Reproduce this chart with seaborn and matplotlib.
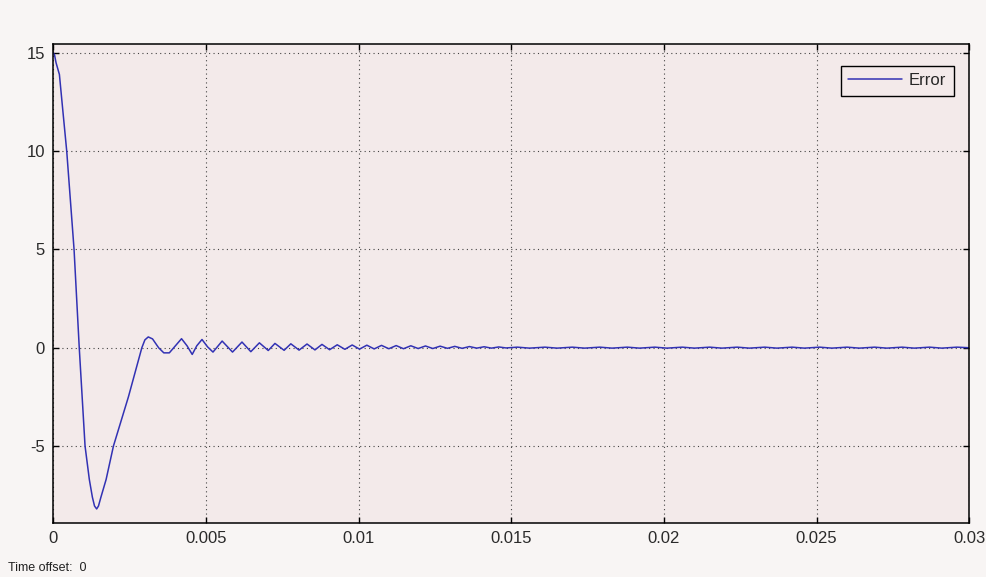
import numpy as np
import pandas as pd
import matplotlib
matplotlib.use("Agg")
import matplotlib.pyplot as plt
import seaborn as sns

# Valores (tempo em ms, erro)
tempo_transitorio_ms = [0.0, 0.04, 0.09, 0.20, 0.31, 0.44, 0.68, 0.85, 1.04, 1.18,
                        1.28, 1.35, 1.42, 1.48, 1.56, 1.73, 1.97, 2.46, 2.90, 3.00, 3.11]
erro_transitorio = [15.0, 14.9, 14.5, 13.9, 12.1, 10.0, 5.0, 0.0, -5.0, -6.7,
                    -7.6, -8.05, -8.2, -8.05, -7.6, -6.7, -5.0, -2.5, 0.0, 0.4, 0.55]

tempo_oscilacao_ms = [3.25, 3.45, 3.62, 3.80, 4.00, 4.20, 4.38, 4.55, 4.70, 4.87,
                      5.05, 5.23, 5.53, 5.87, 6.18, 6.47, 6.75, 7.04, 7.26, 7.56,
                      7.78, 8.05, 8.31, 8.57, 8.80, 9.05, 9.30, 9.55, 9.79, 10.03,
                      10.27, 10.51, 10.75, 10.99, 11.23, 11.47, 11.71, 11.95, 12.19, 12.43,
                      12.67, 12.91, 13.15, 13.39, 13.63, 13.87, 14.11, 14.35, 14.59, 14.83]
erro_oscilacao = [0.45, 0.0, -0.26, -0.26, 0.10, 0.46, 0.10, -0.34, 0.10, 0.42,
                  0.05, -0.22, 0.34, -0.22, 0.29, -0.20, 0.25, -0.14, 0.22, -0.13,
                  0.20, -0.12, 0.19, -0.11, 0.17, -0.10, 0.15, -0.08, 0.14, -0.07,
                  0.13, -0.06, 0.12, -0.05, 0.11, -0.05, 0.10, -0.04, 0.09, -0.04,
                  0.08, -0.03, 0.07, -0.03, 0.06, -0.02, 0.05, -0.02, 0.04, -0.01]

tempo_cauda_ms = [15.2, 15.6, 16.1, 16.5, 17.0, 17.4, 17.9, 18.3, 18.8, 19.2,
                  19.7, 20.1, 20.6, 21.0, 21.5, 21.9, 22.4, 22.8, 23.3, 23.7,
                  24.2, 24.6, 25.1, 25.5, 26.0, 26.4, 26.9, 27.3, 27.8, 28.2,
                  28.7, 29.1, 29.6, 30.0]
erro_cauda = [0.03, -0.02, 0.03, -0.02, 0.03, -0.02, 0.03, -0.02, 0.03, -0.02,
              0.03, -0.02, 0.03, -0.02, 0.03, -0.02, 0.03, -0.02, 0.03, -0.02,
              0.03, -0.02, 0.03, -0.02, 0.03, -0.02, 0.03, -0.02, 0.03, -0.02,
              0.03, -0.02, 0.03, 0.0]

x_ticks = [0, 0.005, 0.01, 0.015, 0.02, 0.025, 0.03]
x_tick_labels = ["0", "0.005", "0.01", "0.015", "0.02", "0.025", "0.03"]
y_ticks = [-5, 0, 5, 10, 15]
y_tick_labels = ["-5", "0", "5", "10", "15"]

# Montar o DataFrame
df = pd.DataFrame({
    "tempo": np.array(tempo_transitorio_ms + tempo_oscilacao_ms + tempo_cauda_ms) / 1000.0,
    "erro": erro_transitorio + erro_oscilacao + erro_cauda,
})

sns.set_style("ticks")
plt.rcParams["font.family"] = ["Liberation Sans", "DejaVu Sans"]
plt.rcParams["axes.unicode_minus"] = False

fig = plt.figure(figsize=(9.87, 5.77), dpi=100, facecolor="#f8f5f4")
ax = fig.add_axes([0.054, 0.0941, 0.928, 0.8296])
ax.set_facecolor("#f3eaea")

sns.lineplot(data=df, x="tempo", y="erro", ax=ax, color="#3232b4",
             linewidth=1.1, estimator=None, sort=False, label="Error")

ax.set_xlim(0, 0.03)
ax.set_ylim(-8.9, 15.45)
ax.set_xticks(x_ticks)
ax.set_xticklabels(x_tick_labels)
ax.set_yticks(y_ticks)
ax.set_yticklabels(y_tick_labels)
ax.set_xlabel("")
ax.set_ylabel("")

ax.tick_params(direction="in", length=4, width=1, colors="black", labelcolor="#2a2a2a",
               labelsize=12, pad=6, top=True, right=True)
ax.grid(True, color="#444444", linestyle=(0, (1, 3)), linewidth=0.8)
for spine in ax.spines.values():
    spine.set_visible(True)
    spine.set_color("black")
    spine.set_linewidth(1.1)

leg = ax.legend(loc="upper right", bbox_to_anchor=(0.9833, 0.9547), borderaxespad=0,
                fontsize=12, frameon=True, fancybox=False, handlelength=3.2,
                handletextpad=0.45, borderpad=0.45)
leg.get_frame().set_facecolor("#f3eaea")
leg.get_frame().set_edgecolor("black")
leg.get_frame().set_linewidth(1.0)
leg.get_frame().set_alpha(1)

fig.text(0.008, 0.0156, "Time offset:  0", fontsize=9, va="center", ha="left", color="#222222")

fig.savefig("out.png", dpi=100, facecolor=fig.get_facecolor())
